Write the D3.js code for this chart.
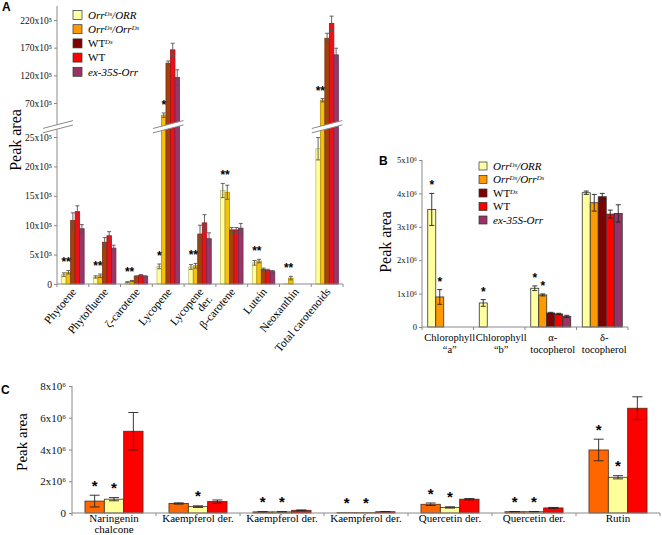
<!DOCTYPE html>
<html><head><meta charset="utf-8">
<script src="https://cdn.jsdelivr.net/npm/d3@7"></script>
<style>
body{margin:0;background:#fff}
svg text{font-family:"Liberation Serif","Times New Roman","DejaVu Serif",serif}
svg text.sans{font-family:"Liberation Sans",Arial,"DejaVu Sans",sans-serif;font-weight:bold}
</style>
</head><body><svg id="c" width="662" height="535"></svg>
<script>
// ---------------- Panel A (x10^5) ----------------
const seriesA = ["OrrDs/ORR", "OrrDs/OrrDs", "WTDs", "WT", "ex-35S-Orr"];
const categoriesA = ["Phytoene", "Phytofluene", "ζ-carotene", "Lycopene", "Lycopene|der.", "β-carotene", "Lutein", "Neoxanthin", "Total carotenoids"];
const valuesA = [
  [1.6, 2.0, 10.8, 12.3, 9.4],
  [1.2, 1.4, 7.1, 8.2, 6.1],
  [0.3, 0.5, 1.3, 1.5, 1.3],
  [3.0, 48, 142, 166, 116],
  [2.9, 3.1, 8.5, 10.4, 7.7],
  [15.9, 15.6, 9.2, 9.2, 9.5],
  [3.6, 3.9, 2.5, 2.3, 2.1],
  [0.05, 1.0, null, null, null],
  [23, 75, 187, 214, 157]
];
const errorsA = [
  [0.3, 0.3, 1.3, 1.0, 0.7],
  [0.2, 0.3, 0.8, 0.7, 0.5],
  [0.1, 0.1, 0.1, 0.1, 0.1],
  [0.4, 4, 4, 12, 14],
  [0.4, 0.4, 1.5, 1.4, 1.0],
  [1.2, 1.2, 0.4, 0.4, 0.8],
  [0.4, 0.3, 0.2, 0.2, 0.2],
  [0, 0.3, 0, 0, 0],
  [1.9, 3, 9, 13, 12]
];
// [category index, series indices sharing one height]
const starsA = [[0,[0,1]],[1,[0,1]],[2,[0,1]],[3,[0]],[3,[1]],[4,[0,1]],[5,[0,1]],[6,[0,1]],[7,[0,1]],[8,[0,1]]];
const lowTicksA = [0, 5, 10, 15, 20, 25];
const highTicksA = [70, 120, 170, 220];

// ---------------- Panel B (x10^6) ----------------
const seriesB = ["OrrDs/ORR", "OrrDs/OrrDs", "WTDs", "WT", "ex-35S-Orr"];
const categoriesB = ["Chlorophyll|“a”", "Chlorophyll|“b”", "α-|tocopherol", "δ-|tocopherol"];
const valuesB = [
  [3.52, 0.9, null, null, null],
  [0.72, null, null, null, null],
  [1.16, 0.96, 0.42, 0.39, 0.32],
  [4.02, 3.72, 3.9, 3.38, 3.4]
];
const errorsB = [
  [0.48, 0.22, 0, 0, 0],
  [0.1, 0, 0, 0, 0],
  [0.07, 0.03, 0.02, 0.02, 0.03],
  [0.05, 0.25, 0.1, 0.12, 0.26]
];
const starsB = [[0,[0]],[0,[1]],[1,[0]],[2,[0]],[2,[1]]];
const ticksB = [0, 1, 2, 3, 4, 5];

// ---------------- Panel C (x10^6) ----------------
const seriesC = ["OrrDs/OrrDs", "OrrDs/ORR", "WT"];
const categoriesC = ["Naringenin|chalcone", "Kaempferol der.", "Kaempferol der.", "Kaempferol der.", "Quercetin der.", "Quercetin der.", "Rutin"];
const valuesC = [
  [0.75, 0.87, 5.15],
  [0.6, 0.4, 0.72],
  [0.07, 0.07, 0.17],
  [0.02, 0.02, 0.08],
  [0.55, 0.35, 0.87],
  [0.08, 0.08, 0.32],
  [3.97, 2.25, 6.6]
];
const errorsC = [
  [0.37, 0.1, 1.18],
  [0.04, 0.05, 0.1],
  [0.01, 0.01, 0.02],
  [0, 0, 0.01],
  [0.08, 0.04, 0.04],
  [0.01, 0.01, 0.03],
  [0.68, 0.1, 0.72]
];
const starsC = [[0,[0]],[0,[1]],[1,[1]],[2,[0]],[2,[1]],[3,[0]],[3,[1]],[4,[0]],[4,[1]],[5,[0]],[5,[1]],[6,[0]],[6,[1]]];
const ticksC = [0, 2, 4, 6, 8];

// legend labels as [text, superscript?] parts
const legendLabels = [
  [["Orr",0],["Ds",1],["/ORR",0]],
  [["Orr",0],["Ds",1],["/Orr",0],["Ds",1]],
  [["WT",0],["Ds",1]],
  [["WT",0]],
  [["ex-35S-Orr",0]]
];
const legendItalic = [true, true, false, false, true];

// ---------------- styles ----------------
const AX = "#8a8a8a";
const colorsA = ["#FFFF9E", "#F4C20A", "#A4420C", "#E8121A", "#97386A"];
const legendColors = ["#FFFFA6", "#FF9900", "#800000", "#FF0000", "#993366"];
const colorsB = ["#FFFF9E", "#FF9900", "#800000", "#FF0000", "#993366"];
const colorsC = ["#FF6600", "#FFFF99", "#FF0000"];

const svg = d3.select("#c");

function starText(g, x, yTop, fs) {
  g.append("text").attr("class", "sans").attr("x", x).attr("y", yTop + 0.22 * fs - 1.5)
    .attr("text-anchor", "middle").attr("font-size", fs).text("*");
}

function drawLegend(g, x0, y0, dy, sw, fs) {
  legendLabels.forEach((parts, i) => {
    const cy = y0 + i * dy;
    g.append("rect").attr("x", x0).attr("y", cy - sw / 2).attr("width", sw).attr("height", sw)
      .attr("fill", legendColors[i]).attr("stroke", "#333").attr("stroke-width", 0.7);
    const t = g.append("text").attr("x", x0 + sw + 6).attr("y", cy + fs * 0.35)
      .attr("font-size", fs)
      .attr("font-style", legendItalic[i] ? "italic" : "normal");
    parts.forEach(([s, sup]) => {
      const ts = t.append("tspan").text(s);
      if (sup) ts.attr("font-size", fs * 0.62).attr("baseline-shift", "45%").attr("font-style", "italic");
    });
  });
}

function yLabel(x, y, fs) {
  svg.append("text").attr("transform", `translate(${x},${y}) rotate(-90)`)
    .attr("text-anchor", "middle").attr("font-size", fs).text("Peak area");
}

function panelLetter(t, x, y) {
  svg.append("text").attr("class", "sans").attr("x", x).attr("y", y)
    .attr("font-size", 12).text(t);
}

function styleAxis(g, fs) {
  g.select(".domain").remove();
  g.selectAll(".tick line").attr("stroke", AX);
  g.selectAll(".tick text").attr("font-size", fs).attr("fill", "#111");
}

function xAxisLine(g, x, y) {
  const [a, b] = x.range();
  g.append("line").attr("x1", a).attr("x2", b).attr("y1", y).attr("y2", y).attr("stroke", AX);
  d3.range(x.domain().length + 1).forEach(i => {
    const xx = a + i * x.step();
    g.append("line").attr("x1", xx).attr("x2", xx).attr("y1", y).attr("y2", y + 3).attr("stroke", AX);
  });
}

function drawBars(g, vals, errs, x, xi, y, base, colors, stroke, errColor, cap) {
  vals.forEach((row, i) => {
    row.forEach((v, j) => {
      if (v == null) return;
      const bx = x(i) + xi(j), bw = xi.bandwidth();
      g.append("rect").attr("x", bx).attr("y", y(v)).attr("width", bw).attr("height", base - y(v))
        .attr("fill", colors[j]).attr("stroke", stroke ? stroke : d3.color(colors[j]).darker(0.8))
        .attr("stroke-width", 0.8);
      const e = errs[i][j];
      if (e > 0) {
        const cx = bx + bw / 2;
        const yt = y(v + e), yb = y(Math.max(0, v - e));
        g.append("line").attr("x1", cx).attr("x2", cx).attr("y1", yt).attr("y2", yb).attr("stroke", errColor).attr("stroke-width", 0.9);
        [yt, yb].forEach(yy => g.append("line").attr("x1", cx - cap / 2).attr("x2", cx + cap / 2)
          .attr("y1", yy).attr("y2", yy).attr("stroke", errColor).attr("stroke-width", 0.9));
      }
    });
  });
}

function drawStars(g, stars, vals, errs, x, xi, y, fs) {
  stars.forEach(([i, js]) => {
    const top = d3.min(js, j => y(vals[i][j] + errs[i][j]));
    js.forEach(j => starText(g, x(i) + xi(j) + xi.bandwidth() / 2, top - fs * 0.35 - 1, fs));
  });
}

// ================= Panel A =================
{
  const g = svg.append("g");
  const base = 284;
  const yLow = d3.scaleLinear().domain([0, 25]).range([base, 137]);
  const yHigh = d3.scaleLinear().domain([70, 220]).range([103, 20]);
  const y = v => (v <= 26 ? yLow(v) : yHigh(v));
  const x = d3.scaleBand().domain(d3.range(categoriesA.length)).range([57, 343]);
  const xi = d3.scaleBand().domain(d3.range(seriesA.length)).range([0, x.bandwidth()]).paddingOuter(1.03);

  g.append("line").attr("x1", 57).attr("x2", 57).attr("y1", base).attr("y2", 6).attr("stroke", AX);
  const aLow = g.append("g").attr("transform", "translate(57,0)")
    .call(d3.axisLeft(yLow).tickValues(lowTicksA).tickSize(3).tickPadding(2)
      .tickFormat(d => (d === 0 ? "0" : d + "x10⁵")));
  styleAxis(aLow, 9.5);
  const aHigh = g.append("g").attr("transform", "translate(57,0)")
    .call(d3.axisLeft(yHigh).tickValues(highTicksA).tickSize(3).tickPadding(2)
      .tickFormat(d => d + "x10⁵"));
  styleAxis(aHigh, 9.5);

  drawBars(g, valuesA, errorsA, x, xi, y, base, colorsA, null, "#555", 4);
  drawStars(g, starsA, valuesA, errorsA, x, xi, y, 12);
  xAxisLine(g, x, base);

  const yc = (yLow(26) + yHigh(37)) / 2 + 0.5, k = 0.26;
  function brk(xl, xr) {
    const xm = (xl + xr) / 2;
    const f = (xx, off) => yc + off - (xx - xm) * k;
    g.append("polygon").attr("points", [[xl, f(xl, -2.2)], [xr, f(xr, -2.2)], [xr, f(xr, 2.2)], [xl, f(xl, 2.2)]].map(p => p.join(",")).join(" "))
      .attr("fill", "#fff");
    [-2.2, 2.2].forEach(o => g.append("line").attr("x1", xl).attr("x2", xr).attr("y1", f(xl, o)).attr("y2", f(xr, o))
      .attr("stroke", AX).attr("stroke-width", 1));
  }
  brk(43, 73);
  valuesA.forEach((row, i) => {
    if (d3.max(row) > 26) brk(x(i) + xi(0) - 4, x(i) + xi(seriesA.length - 1) + xi.bandwidth() + 4);
  });

  categoriesA.forEach((c, i) => {
    const t = g.append("text").attr("transform", `translate(${x(i) + x.bandwidth() / 2 + 4},${base + 8}) rotate(-50)`)
      .attr("text-anchor", "end").attr("font-size", 11.5);
    c.split("|").forEach((s, k2) => t.append("tspan").attr("x", 0).attr("dy", k2 === 0 ? 0 : "1.0em").text(s));
  });

  drawLegend(g, 73, 15, 14.2, 9, 11);
  yLabel(21, 140, 16);
  panelLetter("A", 2, 11);
}

// ================= Panel B =================
{
  const g = svg.append("g");
  const base = 327;
  const y = d3.scaleLinear().domain([0, 5]).range([base, 160]);
  const x = d3.scaleBand().domain(d3.range(categoriesB.length)).range([422, 628]);
  const xi = d3.scaleBand().domain(d3.range(seriesB.length)).range([0, x.bandwidth()]).paddingOuter(0.72);
  g.append("line").attr("x1", 422).attr("x2", 422).attr("y1", base).attr("y2", 160).attr("stroke", AX);
  const ay = g.append("g").attr("transform", "translate(422,0)")
    .call(d3.axisLeft(y).tickValues(ticksB).tickSize(3).tickPadding(2).tickFormat(d => (d === 0 ? "0" : d + "x10⁶")));
  styleAxis(ay, 8.5);
  drawBars(g, valuesB, errorsB, x, xi, y, base, colorsB, "#333", "#222", 5);
  drawStars(g, starsB, valuesB, errorsB, x, xi, y, 12);
  xAxisLine(g, x, base);
  categoriesB.forEach((c, i) => {
    c.split("|").forEach((s, k2) => g.append("text").attr("x", x(i) + x.bandwidth() / 2 + 2).attr("y", base + 14 + k2 * 12)
      .attr("text-anchor", "middle").attr("font-size", 10.5).text(s));
  });
  drawLegend(g, 479, 166, 13.5, 8, 11);
  yLabel(391, 242, 16);
  panelLetter("B", 379, 165);
}

// ================= Panel C =================
{
  const g = svg.append("g");
  const base = 513;
  const y = d3.scaleLinear().domain([0, 8]).range([base, 386]);
  const x = d3.scaleBand().domain(d3.range(categoriesC.length)).range([72, 660]);
  const xi = d3.scaleBand().domain(d3.range(seriesC.length)).range([0, x.bandwidth()]).paddingOuter(0.67);
  g.append("line").attr("x1", 72).attr("x2", 72).attr("y1", base).attr("y2", 386).attr("stroke", AX);
  const ay = g.append("g").attr("transform", "translate(72,0)")
    .call(d3.axisLeft(y).tickValues(ticksC).tickSize(3).tickPadding(3).tickFormat(d => (d === 0 ? "0" : d + "x10⁶")));
  styleAxis(ay, 11);
  drawBars(g, valuesC, errorsC, x, xi, y, base, colorsC, "#4a2a12", "#222", 10);
  drawStars(g, starsC, valuesC, errorsC, x, xi, y, 15);
  xAxisLine(g, x, base);
  categoriesC.forEach((c, i) => {
    c.split("|").forEach((s, k2) => g.append("text").attr("x", x(i) + x.bandwidth() / 2).attr("y", base + 9 + k2 * 11)
      .attr("text-anchor", "middle").attr("font-size", 11).text(s));
  });
  yLabel(27, 442, 15);
  panelLetter("C", 1, 394);
}
</script></body></html>
